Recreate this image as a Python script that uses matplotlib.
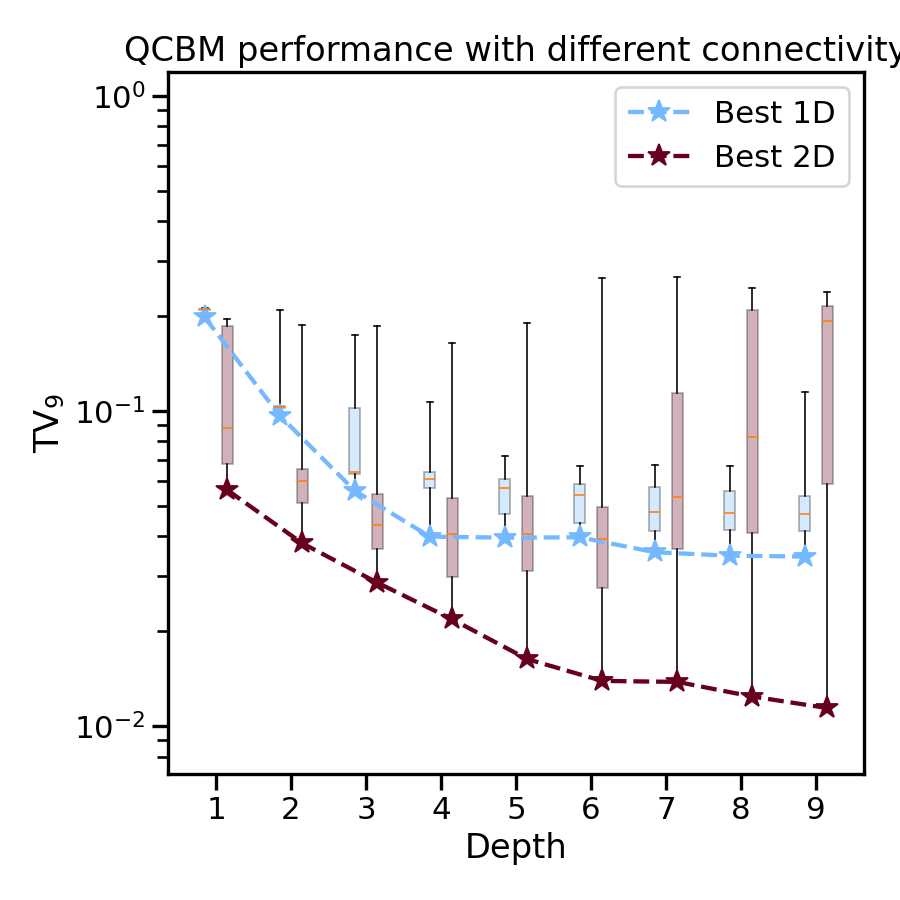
import numpy as np
import matplotlib
matplotlib.use("Agg")
import matplotlib.pyplot as plt
import seaborn as sns

sns.set_context("talk", font_scale=1.05)
plt.rcParams['font.family'] = ['DejaVu Sans']
plt.rcParams['xtick.major.size'] = 9
plt.rcParams['ytick.major.size'] = 9
plt.rcParams['ytick.minor.size'] = 6
plt.rcParams['axes.linewidth'] = 1.875
plt.rcParams['xtick.major.width'] = 1.875
plt.rcParams['ytick.major.width'] = 1.875
plt.rcParams['ytick.minor.width'] = 1.5

depths = [1, 2, 3, 4, 5, 6, 7, 8, 9]

best_1d = [0.198, 0.0966, 0.0558, 0.0399, 0.0396, 0.0397, 0.0356, 0.0347, 0.0345]
best_2d = [0.0561, 0.0380, 0.0285, 0.0218, 0.0163, 0.0139, 0.0138, 0.0124, 0.0114]

# 1D box statistics
q1_1d = [0.209, 0.1025, 0.0631, 0.0568, 0.0470, 0.0440, 0.0416, 0.0419, 0.0416]
med_1d = [0.210, 0.1030, 0.0639, 0.0607, 0.0568, 0.0540, 0.0477, 0.0473, 0.0470]
q3_1d = [0.211, 0.1040, 0.1020, 0.0639, 0.0610, 0.0584, 0.0575, 0.0556, 0.0535]
max_1d = [0.212, 0.2088, 0.1739, 0.1066, 0.0718, 0.0667, 0.0673, 0.0667, 0.1146]

# 2D box statistics
q1_2d = [0.0679, 0.0510, 0.0364, 0.0297, 0.0310, 0.0274, 0.0365, 0.0409, 0.0586]
med_2d = [0.0881, 0.0598, 0.0433, 0.0406, 0.0406, 0.0392, 0.0532, 0.0825, 0.1927]
q3_2d = [0.1866, 0.0656, 0.0546, 0.0531, 0.0538, 0.0497, 0.1143, 0.2083, 0.2160]
max_2d = [0.1955, 0.1875, 0.1860, 0.1640, 0.1900, 0.2640, 0.2660, 0.2450, 0.2380]

c1 = '#74b9ff'
c2 = '#67001f'
offset = 0.15
bw = 0.15

fig = plt.figure(figsize=(7, 7), dpi=900/7)
ax = fig.add_axes([0.1867, 0.14, 0.7733, 0.78])

def stats(lo, q1, med, q3, hi):
    return [dict(whislo=a, q1=b, med=c, q3=d, whishi=e, fliers=[])
            for a, b, c, d, e in zip(lo, q1, med, q3, hi)]

pos1 = [d - offset for d in depths]
pos2 = [d + offset for d in depths]

for st, pos, col in [(stats(best_1d, q1_1d, med_1d, q3_1d, max_1d), pos1, c1),
                     (stats(best_2d, q1_2d, med_2d, q3_2d, max_2d), pos2, c2)]:
    ax.bxp(st, positions=pos, widths=bw, patch_artist=True, showfliers=False,
           boxprops=dict(facecolor=col, edgecolor='black', alpha=0.3, linewidth=1.0),
           whiskerprops=dict(color='black', linewidth=0.9),
           capprops=dict(color='black', linewidth=0.9),
           medianprops=dict(color='#ff7f0e', linewidth=0.9),
           manage_ticks=False)

ax.plot(pos1, best_1d, linestyle='--', marker='*', color=c1, markersize=13, linewidth=2.4, label='Best 1D')
ax.plot(pos2, best_2d, linestyle='--', marker='*', color=c2, markersize=13, linewidth=2.4, label='Best 2D')

ax.set_yscale('log')
ax.set_ylim(0.00704, 1.19)
ax.set_xlim(0.36, 9.64)
ax.set_xticks(depths)
ax.set_xticklabels([str(d) for d in depths])
ax.set_xlabel('Depth')
ax.set_ylabel(r'TV$_9$')
ax.set_title('QCBM performance with different connectivity')
ax.legend(loc='upper right')

fig.savefig('out.png', dpi=900/7)
